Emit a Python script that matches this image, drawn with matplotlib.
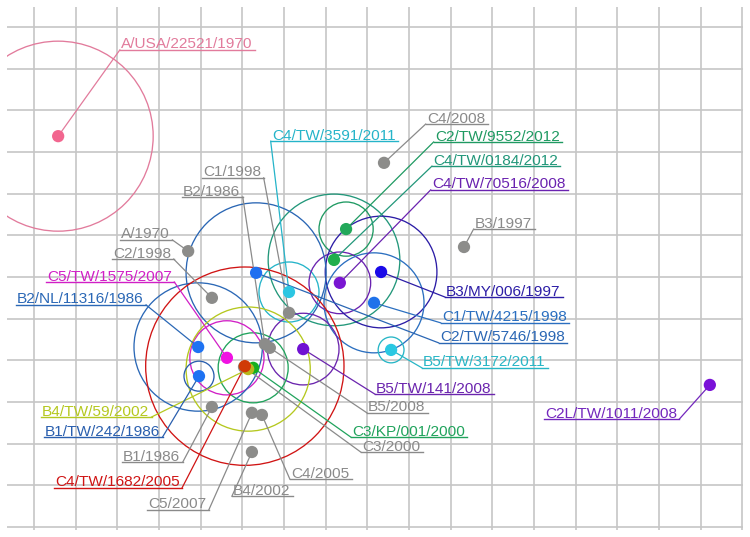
import matplotlib
matplotlib.use("Agg")
import matplotlib.pyplot as plt
from matplotlib.patches import Circle

# ---------------- data (map units, y grows downward) ----------------
strain_names = ["A/USA/22521/1970", "C4/TW/3591/2011", "C2/TW/9552/2012", "C4/TW/0184/2012",
                "C4/TW/70516/2008", "B3/MY/006/1997", "C1/TW/4215/1998", "C2/TW/5746/1998",
                "B5/TW/3172/2011", "B5/TW/141/2008", "C2L/TW/1011/2008", "C3/KP/001/2000",
                "C5/TW/1575/2007", "B2/NL/11316/1986", "B4/TW/59/2002", "B1/TW/242/1986",
                "C4/TW/1682/2005"]
strain_x = [0.58, 6.12, 7.49, 7.20, 7.34, 8.33, 8.16, 5.33, 8.57, 6.46, 16.22, 5.26,
            4.63, 3.94, 5.14, 3.96, 5.06]
strain_y = [2.62, 6.36, 4.85, 5.59, 6.14, 5.88, 6.62, 5.90, 7.75, 7.73, 8.59, 8.18,
            7.94, 7.68, 8.21, 8.38, 8.14]
strain_radius = [2.28, 0.72, 0.65, 1.58, 0.74, 1.34, 1.20, 1.68, 0.31, 0.86, 0.0, 0.84,
                 0.89, 1.54, 1.49, 0.36, 2.38]

serum_names = ["C4/2008", "B3/1997", "A/1970", "C2/1998", "C1/1998", "B2/1986", "B5/2008",
               "C3/2000", "B1/1986", "C5/2007", "C4/2005", "B4/2002"]
serum_x = [8.40, 10.32, 3.70, 4.27, 6.12, 5.54, 5.66, 5.04, 4.27, 5.23, 5.47, 5.23]
serum_y = [3.26, 5.28, 5.38, 6.50, 6.86, 7.61, 7.70, 8.16, 9.12, 9.26, 9.31, 10.20]

# ---------------- styles / layout ----------------
strain_line_colors = ["#e27b9c", "#25b4c9", "#1f9a62", "#22977a", "#6a22b0", "#2c1da6",
                      "#2b6fc0", "#2a66b4", "#28b6c6", "#6b25ae", "#7327bd", "#20a35c",
                      "#d11fc6", "#2b68b6", "#b5c81f", "#2a5fae", "#d01414"]
strain_point_colors = ["#f2668f", "#2cc6e2", "#22a85a", "#1fae4c", "#7a16d2", "#1a0ae8",
                       "#1f72ea", "#1f6ff0", "#2ac8e2", "#7012d2", "#7a12d8", "#16b01e",
                       "#f012e2", "#1e72f2", "#b8b81c", "#1e72f2", "#d03a06"]
serum_color = "#8c8c8a"
serum_text_color = "#8a8a8a"

# label anchors: (left x of label, underline y, side where leader meets underline)
strain_label_pos = [(2.09, 0.55, "L"), (5.71, 2.74, "L"), (9.62, 2.76, "L"), (9.58, 3.34, "L"),
                    (9.55, 3.91, "L"), (9.89, 6.48, "L"), (9.79, 7.10, "L"), (9.74, 7.58, "L"),
                    (9.34, 8.18, "L"), (8.21, 8.81, "L"), (12.26, 9.41, "R"), (7.63, 9.84, "L"),
                    (0.31, 6.12, "R"), (-0.41, 6.67, "R"), (0.19, 9.36, "R"), (0.26, 9.84, "R"),
                    (0.50, 11.06, "R")]
serum_label_pos = [(9.43, 2.33, "L"), (10.58, 4.85, "L"), (2.09, 5.11, "R"), (1.90, 5.57, "R"),
                   (4.06, 3.62, "R"), (3.58, 4.08, "R"), (8.02, 9.26, "L"), (7.87, 10.20, "L"),
                   (2.14, 10.44, "R"), (2.74, 11.59, "R"), (6.17, 10.85, "L"), (4.78, 11.26, "L")]

PX = 41.667  # pixels per map unit
W, H = 750, 537
fig = plt.figure(figsize=(W / 100, H / 100), dpi=100)
ax = fig.add_axes([7 / W, 7 / H, 736 / W, 523 / H])
ax.set_xlim((7 - 34) / PX, (743 - 34) / PX)
ax.set_ylim((530 - 27) / PX, (7 - 27) / PX)
ax.set_xticks(range(0, 18))
ax.set_yticks(range(0, 13))
ax.tick_params(length=0, labelbottom=False, labelleft=False)
ax.grid(True, color="#c6c6c6", lw=1.2, zorder=0)
ax.set_axisbelow(True)
for s in ax.spines.values():
    s.set_visible(False)

FONT = dict(family="Liberation Sans", fontsize=11.1)
off = 1.5 / PX

texts = []
for name, lp, col in zip(serum_names, serum_label_pos, [serum_text_color] * len(serum_names)):
    t = ax.text(lp[0], lp[1] - off, name, color=col, va="baseline", ha="left", zorder=6,
                clip_on=False, **FONT)
    texts.append(("s", t))
for name, lp, col in zip(strain_names, strain_label_pos, strain_line_colors):
    t = ax.text(lp[0], lp[1] - off, name, color=col, va="baseline", ha="left", zorder=6,
                clip_on=False, **FONT)
    texts.append(("v", t))

fig.canvas.draw()
renderer = fig.canvas.get_renderer()
inv = ax.transData.inverted()

def label_ends(t, lp):
    bb = t.get_window_extent(renderer)
    x1 = inv.transform((bb.x1, bb.y0))[0]
    return lp[0] - 0.03, x1 + 0.06

# circles
for x, y, r, col in zip(strain_x, strain_y, strain_radius, strain_line_colors):
    if r > 0:
        ax.add_patch(Circle((x, y), r, fill=False, ec=col, lw=0.95, zorder=2))

# underlines and leaders for sera
idx = 0
for name, x, y, lp in zip(serum_names, serum_x, serum_y, serum_label_pos):
    t = texts[idx][1]
    idx += 1
    a, b = label_ends(t, lp)
    ax.plot([a, b], [lp[1], lp[1]], color=serum_text_color, lw=1.0, zorder=3, clip_on=False)
    ex = a if lp[2] == "L" else b
    ax.plot([x, ex], [y, lp[1]], color=serum_text_color, lw=0.9, zorder=3)

for name, x, y, lp, col in zip(strain_names, strain_x, strain_y, strain_label_pos, strain_line_colors):
    t = texts[idx][1]
    idx += 1
    a, b = label_ends(t, lp)
    ax.plot([a, b], [lp[1], lp[1]], color=col, lw=1.0, zorder=3, clip_on=False)
    ex = a if lp[2] == "L" else b
    ax.plot([x, ex], [y, lp[1]], color=col, lw=0.9, zorder=3)

# points
ax.scatter(serum_x, serum_y, s=78, color=serum_color, edgecolors="none", zorder=4)
ax.scatter(strain_x, strain_y, s=78, color=strain_point_colors, edgecolors="none", zorder=5)

fig.savefig("out.png", dpi=100)
